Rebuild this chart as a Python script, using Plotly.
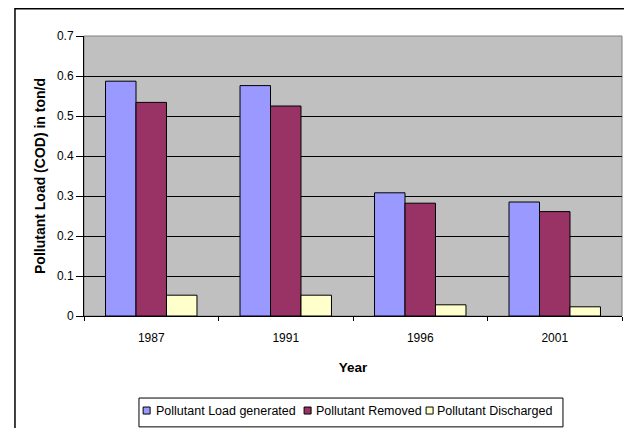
import plotly.graph_objects as go

years = ['1987', '1991', '1996', '2001']
load_generated = [0.587, 0.576, 0.308, 0.285]
removed = [0.534, 0.525, 0.282, 0.261]
discharged = [0.052, 0.052, 0.028, 0.023]

names = ['Pollutant Load generated', 'Pollutant Removed', 'Pollutant Discharged']
colors = ['#9999FF', '#993366', '#FFFFCC']
values = [load_generated, removed, discharged]

# legend placement (paper x): text part and key-square part of each entry
text_x = [0.0595, 0.3569, 0.5818]
key_x = [0.0792, 0.3784, 0.6052]

fig = go.Figure()
for name, vals, color in zip(names, values, colors):
    fig.add_trace(go.Bar(
        x=years, y=vals, name=name, showlegend=False,
        marker=dict(color=color, line=dict(color='black', width=1)),
    ))

legends = {}
for i, (name, color) in enumerate(zip(names, colors)):
    tl = 'legend' if i == 0 else 'legend%d' % (i + 1)
    kl = 'legend%d' % (i + 4)
    # label only (key hidden)
    fig.add_trace(go.Scatter(
        x=[None], y=[None], name=name, mode='markers', legend=tl,
        marker=dict(symbol='square', size=7, color='rgba(0,0,0,0)',
                    line=dict(width=0)),
    ))
    # small square key close to the label, like the Excel one
    fig.add_trace(go.Scatter(
        x=[None], y=[None], name=' ', mode='markers', legend=kl,
        marker=dict(symbol='square', size=7, color=color,
                    line=dict(color='black', width=1)),
    ))
    for leg, lx in ((tl, text_x[i]), (kl, key_x[i])):
        legends[leg] = dict(
            orientation='h', x=lx, xanchor='left',
            y=-0.339, yanchor='middle',
            bgcolor='rgba(0,0,0,0)', borderwidth=0,
            itemwidth=30, font=dict(size=12.5),
        )

font = 'Liberation Sans, Arial, sans-serif'

fig.update_layout(
    width=624, height=420,
    margin=dict(l=76, r=10, t=28, b=112, autoexpand=False),
    paper_bgcolor='white',
    plot_bgcolor='#C0C0C0',
    barmode='group',
    bargap=0.32,
    bargroupgap=0,
    font=dict(family=font, size=12, color='black'),
    showlegend=True,
    shapes=[
        # outer chart frame
        dict(type='rect', xref='paper', yref='paper',
             x0=-0.1283, x1=1.0149, y0=-0.45, y1=1.097,
             line=dict(color='black', width=1.5), layer='below'),
        # plot area border
        dict(type='rect', xref='paper', yref='paper',
             x0=0, x1=1, y0=0, y1=1,
             line=dict(color='#808080', width=1), layer='below'),
        # legend box
        dict(type='rect', xref='paper', yref='paper',
             x0=0.1022, x1=0.8903, y0=-0.396, y1=-0.293,
             line=dict(color='black', width=1), layer='below'),
    ],
    **legends,
)

fig.update_xaxes(
    automargin=False,
    showline=True, linecolor='black', linewidth=1,
    ticks='outside', tickson='boundaries', ticklen=4, tickcolor='black',
    ticklabelstandoff=11,
    showgrid=False,
    title=dict(text='<b>Year</b>', font=dict(size=13.5), standoff=18),
)
fig.update_yaxes(
    automargin=False,
    range=[0, 0.7], dtick=0.1, tickformat='.1~f',
    showline=True, linecolor='black', linewidth=1,
    ticks='outside', ticklen=7, tickcolor='black',
    showgrid=True, gridcolor='black', gridwidth=1,
    zeroline=False,
    title=dict(text='<b>Pollutant Load (COD) in ton/d</b>', font=dict(size=14), standoff=8),
)

fig.write_html("out.html")
